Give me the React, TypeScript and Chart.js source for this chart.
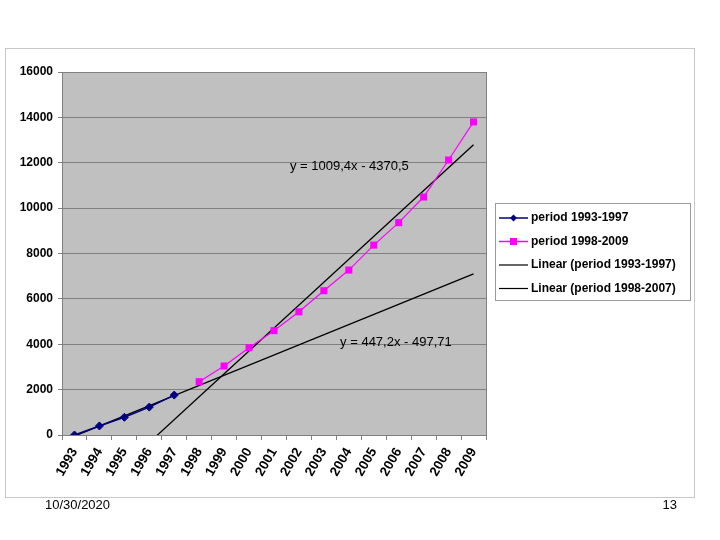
import React, { useEffect, useRef } from "react";
import { Chart, registerables } from "chart.js";

Chart.register(...registerables);

const years = ["1993","1994","1995","1996","1997","1998","1999","2000","2001","2002","2003","2004","2005","2006","2007","2008","2009"];
const period1 = [0, 400, 780, 1230, 1760, null, null, null, null, null, null, null, null, null, null, null, null];
const period2 = [null, null, null, null, null, 2350, 3040, 3850, 4600, 5430, 6360, 7270, 8370, 9360, 10490, 12120, 13800];
const yTicks = [0, 2000, 4000, 6000, 8000, 10000, 12000, 14000, 16000];
const legendLabels = ["period 1993-1997", "period 1998-2009", "Linear (period 1993-1997)", "Linear (period 1998-2007)"];
// trendline equations as displayed on the chart (x = 1 for 1993)
const trend1Slope = 447.2;
const trend1Intercept = -497.71;
const trend2Slope = 1009.4;
const trend2Intercept = -4370.5;
const eq1Text = "y = 1009,4x - 4370,5";
const eq2Text = "y = 447,2x - 497,71";
const pageDate = "10/30/2020";
const pageNumber = "13";

function trendEndpoints(slope: number, intercept: number, fromIdx: number, toIdx: number) {
  return years.map((_, i) =>
    i === fromIdx || i === toIdx ? slope * (i + 1) + intercept : null
  );
}

const FONT = "'Liberation Sans', Arial, sans-serif";

export default function App() {
  const ref = useRef<HTMLCanvasElement | null>(null);
  useEffect(() => {
    if (!ref.current) return;
    const bgPlugin = {
      id: "plotBg",
      beforeDraw(chart: any) {
        const { ctx, chartArea: a } = chart;
        ctx.save();
        ctx.fillStyle = "#c0c0c0";
        ctx.fillRect(a.left, a.top, a.right - a.left, a.bottom - a.top);
        ctx.restore();
      },
      beforeDatasetsDraw(chart: any) {
        const { ctx, chartArea: a } = chart;
        ctx.save();
        ctx.strokeStyle = "#808080";
        ctx.lineWidth = 1;
        ctx.strokeRect(Math.round(a.left) + 0.5, Math.round(a.top) + 0.5, Math.round(a.right - a.left), Math.round(a.bottom - a.top));
        ctx.restore();
      },
      afterDraw(chart: any) {
        const { ctx } = chart;
        const xs = chart.scales.x;
        const ys = chart.scales.y;
        ctx.save();
        ctx.fillStyle = "#000";
        ctx.font = `13px ${FONT}`;
        ctx.textBaseline = "middle";
        ctx.textAlign = "left";
        ctx.fillText(eq1Text, xs.getPixelForValue(8.64), ys.getPixelForValue(11860));
        ctx.fillText(eq2Text, xs.getPixelForValue(10.65), ys.getPixelForValue(4060));
        // legend
        const lx = 495.5, ly = 203.5, lw = 195, lh = 97;
        ctx.strokeStyle = "#9a9a9a";
        ctx.lineWidth = 1;
        ctx.strokeRect(lx, ly, lw, lh);
        const rows = [218, 241.5, 265, 288.5];
        const colors = ["#000080", "#ff00ff", "#000000", "#000000"];
        rows.forEach((ry, i) => {
          ctx.strokeStyle = colors[i];
          ctx.lineWidth = i < 2 ? 1.5 : 1.2;
          ctx.beginPath();
          ctx.moveTo(499, ry);
          ctx.lineTo(528, ry);
          ctx.stroke();
          if (i === 0) {
            ctx.fillStyle = "#000080";
            ctx.beginPath();
            ctx.moveTo(513.5, ry - 3.5);
            ctx.lineTo(517, ry);
            ctx.lineTo(513.5, ry + 3.5);
            ctx.lineTo(510, ry);
            ctx.closePath();
            ctx.fill();
          } else if (i === 1) {
            ctx.fillStyle = "#ff00ff";
            ctx.fillRect(510, ry - 3.5, 7, 7);
          }
          ctx.fillStyle = "#000";
          ctx.font = `bold 12px ${FONT}`;
          ctx.fillText(legendLabels[i], 531, ry);
        });
        ctx.restore();
      },
    };

    const chart = new Chart(ref.current, {
      type: "line",
      data: {
        labels: years,
        datasets: [
          {
            label: legendLabels[0],
            data: period1,
            borderColor: "#000080",
            backgroundColor: "#000080",
            borderWidth: 1.5,
            pointStyle: "rectRot",
            pointRadius: 4,
            pointBorderWidth: 1,
            order: 1,
          },
          {
            label: legendLabels[1],
            data: period2,
            borderColor: "#ff00ff",
            backgroundColor: "#ff00ff",
            borderWidth: 1.2,
            pointStyle: "rect",
            pointRadius: 5,
            pointBorderWidth: 0,
            order: 2,
          },
          {
            label: legendLabels[2],
            data: trendEndpoints(trend1Slope, trend1Intercept, 0, 16),
            borderColor: "#000000",
            borderWidth: 1.3,
            pointRadius: 0,
            spanGaps: true,
            order: 3,
          },
          {
            label: legendLabels[3],
            data: trendEndpoints(trend2Slope, trend2Intercept, 3, 16),
            borderColor: "#000000",
            borderWidth: 1.3,
            pointRadius: 0,
            spanGaps: true,
            order: 4,
          },
        ],
      },
      options: {
        responsive: false,
        animation: false,
        events: [],
        layout: { padding: { left: 0, top: 72, right: 234, bottom: 55 } },
        plugins: { legend: { display: false }, tooltip: { enabled: false }, title: { display: false } },
        scales: {
          x: {
            type: "category",
            offset: true,
            grid: { offset: true, drawOnChartArea: false, drawTicks: true, tickLength: 5, color: "#808080" },
            border: { display: true, color: "#808080" },
            ticks: {
              autoSkip: false,
              minRotation: 60,
              maxRotation: 60,
              padding: 5,
              color: "#000",
              font: { family: FONT, size: 13.5, weight: "bold" },
            },
            afterFit(scale: any) { scale.height = 50; },
          },
          y: {
            min: 0,
            max: 16000,
            afterBuildTicks(scale: any) { scale.ticks = yTicks.map((v) => ({ value: v })); },
            grid: { color: "#808080", drawTicks: true, tickLength: 4, tickColor: "#808080" },
            border: { display: true, color: "#808080" },
            ticks: {
              padding: 5,
              color: "#000",
              font: { family: FONT, size: 12, weight: "bold" },
              callback: (v: any) => String(v),
            },
            afterFit(scale: any) { scale.width = 62; },
          },
        },
      },
      plugins: [bgPlugin],
    } as any);
    return () => chart.destroy();
  }, []);

  return (
    <div style={{ position: "absolute", left: 0, top: 0, width: 720, height: 540, background: "#fff" }}>
      <div style={{ position: "absolute", left: 5, top: 48, width: 688, height: 448, border: "1px solid #c8c8c8" }} />
      <canvas ref={ref} width={720} height={540} style={{ position: "absolute", left: 0, top: 0 }} />
      <div style={{ position: "absolute", left: 45, top: 497, font: `13px ${FONT}`, lineHeight: "16px", color: "#000" }}>{pageDate}</div>
      <div style={{ position: "absolute", right: 43, top: 497, font: `13px ${FONT}`, lineHeight: "16px", color: "#000", textAlign: "right" }}>{pageNumber}</div>
    </div>
  );
}
